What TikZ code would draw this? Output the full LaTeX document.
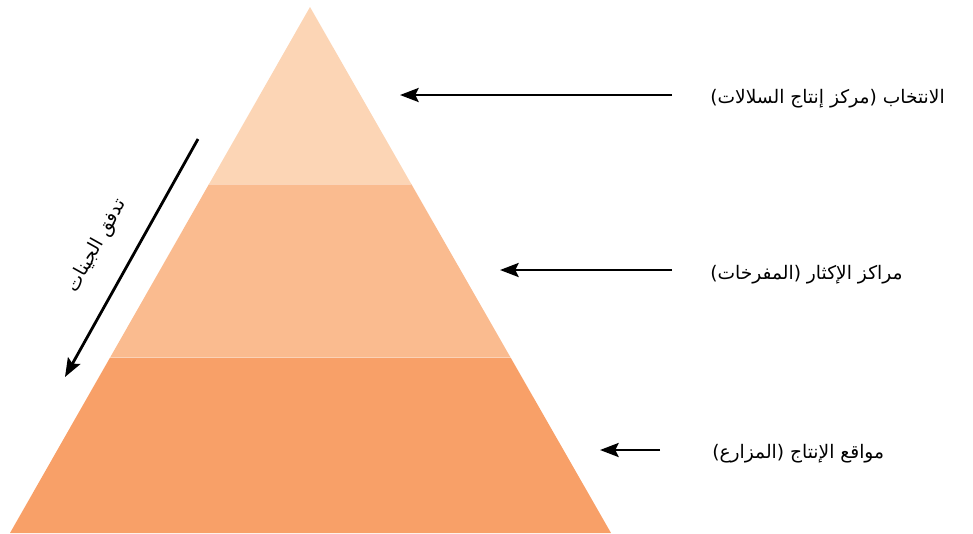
\documentclass[tikz,border=0pt]{standalone}
\usepackage{fontspec}
\newfontfamily\arabicfont[Script=Arabic]{DejaVu Sans}
\TeXXeTstate=1
\usetikzlibrary{arrows.meta,calc,positioning}
\definecolor{layertop}{HTML}{FCD5B5}
\definecolor{layermid}{HTML}{FABB8F}
\definecolor{layerbot}{HTML}{F8A068}
\tikzset{
  flow/.style={-{Stealth[length=14pt,width=10.5pt,inset=2.5pt]}, line width=2.1pt},
  levellabel/.style={anchor=west, inner sep=0pt, font=\arabicfont\fontsize{14}{16}\selectfont},
  layer/.style={draw=white, draw opacity=0.35, line width=0.6pt}
}
\begin{document}
\begin{tikzpicture}[x=0.75pt, y=-0.75pt]
  \useasboundingbox (0,0) rectangle (973,533);
  % pyramid corners
  \coordinate (apex) at (310,7);
  \coordinate (bl) at (10,533);
  \coordinate (br) at (611,533);
  \coordinate (l1) at ($(apex)!0.3365!(bl)$);
  \coordinate (r1) at ($(apex)!0.3365!(br)$);
  \coordinate (l2) at ($(apex)!0.667!(bl)$);
  \coordinate (r2) at ($(apex)!0.667!(br)$);
  % layers
  \fill[layerbot] (l2) -- (r2) -- (br) -- (bl) -- cycle;
  \fill[layermid] (l1) -- (r1) -- (r2) -- (l2) -- cycle;
  \fill[layertop] (apex) -- (r1) -- (l1) -- cycle;
  \draw[layer] (l1) -- (r1);
  \draw[layer] (l2) -- (r2);
  % level labels
  \node[levellabel] (sel) at (710,99) {\beginR الانتخاب (مركز إنتاج السلالات)\endR};
  \node[levellabel] (mul) at (710,275) {\beginR مراكز الإكثار (المفرخات)\endR};
  \node[levellabel] (prod) at (712,454) {\beginR مواقع الإنتاج (المزارع)\endR};
  % arrows to the layers
  \coordinate (selfrom) at (672,95);
  \coordinate (seltip) at (400,95);
  \coordinate (mulfrom) at (672,270);
  \coordinate (multip) at (500,270);
  \coordinate (prodfrom) at (660,450);
  \coordinate (prodtip) at (600,450);
  \draw[flow] (selfrom) -- (seltip);
  \draw[flow] (mulfrom) -- (multip);
  \draw[flow] (prodfrom) -- (prodtip);
  % gene flow
  \coordinate (genetop) at (198,139);
  \coordinate (genebot) at (65,377);
  \draw[flow] (genetop) -- (genebot);
  \node[font=\arabicfont\fontsize{14}{16}\selectfont, rotate=60.8, inner sep=0pt] (gene) at (97,246)
    {\beginR تدفق الجينات\endR};
\end{tikzpicture}
\end{document}
